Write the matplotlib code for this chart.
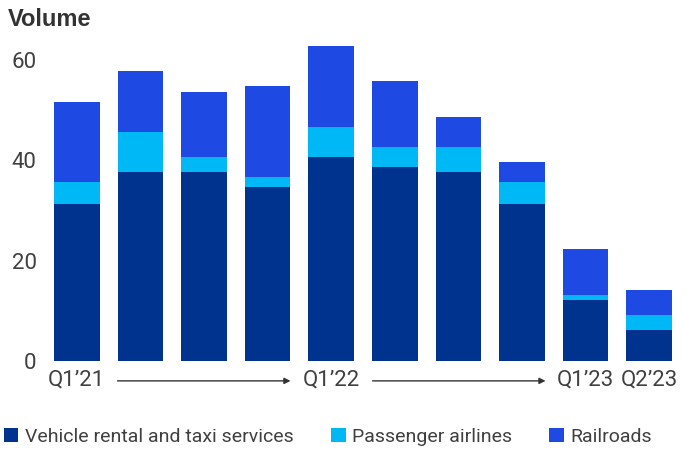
import matplotlib
matplotlib.use("Agg")
import matplotlib.pyplot as plt
from matplotlib.patches import Patch

FONT = "Roboto"

quarters = ["Q1'21", "Q2'21", "Q3'21", "Q4'21", "Q1'22", "Q2'22", "Q3'22", "Q4'22", "Q1'23", "Q2'23"]
vehicle = [31.4, 37.6, 37.6, 34.6, 40.6, 38.6, 37.6, 31.4, 12.2, 6.2]
airlines = [4.2, 8.0, 3.0, 2.0, 6.0, 4.0, 5.0, 4.2, 1.0, 3.0]
railroads = [16.0, 12.2, 13.0, 18.2, 16.2, 13.2, 6.0, 4.0, 9.2, 5.0]
tick_pos = [0, 4, 8, 9]
tick_labels = ["Q1\u201921", "Q1\u201922", "Q1\u201923", "Q2\u201923"]
series_names = ["Vehicle rental and taxi services", "Passenger airlines", "Railroads"]
colors = ["#00338D", "#00B8F5", "#1E49E2"]

fig = plt.figure(figsize=(6.86, 4.49), dpi=100)
ax = fig.add_axes([45/686, 88/449, 636/686, 326/449])

x = list(range(len(quarters)))
b1 = [v for v in vehicle]
b2 = [v + a for v, a in zip(vehicle, airlines)]
ax.bar(x, vehicle, width=0.72, color=colors[0])
ax.bar(x, airlines, width=0.72, bottom=b1, color=colors[1])
ax.bar(x, railroads, width=0.72, bottom=b2, color=colors[2])

ax.set_xlim(-0.5, 9.5)
ax.set_ylim(0, 65)
ax.set_yticks([0, 20, 40, 60])
for s in ax.spines.values():
    s.set_visible(False)
ax.tick_params(axis="both", length=0, labelsize=16, labelcolor="#404040")
ax.tick_params(axis="y", pad=6)
ax.tick_params(axis="x", pad=6)
ax.set_xticks(tick_pos)
ax.set_xticklabels(tick_labels)
for lbl in ax.get_xticklabels() + ax.get_yticklabels():
    lbl.set_fontfamily(FONT)
for lbl in ax.get_yticklabels():
    lbl.set_horizontalalignment("right")

tr = ax.get_xaxis_transform()
for x0, x1 in [(0.64, 3.36), (4.65, 7.37)]:
    ax.annotate("", xy=(x1, -0.061), xytext=(x0, -0.061), xycoords=tr, textcoords=tr,
                arrowprops=dict(arrowstyle="-|>", color="#333333", lw=1.0,
                                mutation_scale=9, shrinkA=0, shrinkB=0),
                annotation_clip=False)

fig.text(8/686, 1 - 20/449, "Volume", fontsize=17, fontweight="bold", color="#333333",
         va="center", ha="left", family=["Liberation Sans", "DejaVu Sans"])

handles = [Patch(facecolor=c, edgecolor="none") for c in colors]
fig.legend(handles, series_names, loc="center left", bbox_to_anchor=(0.0, 1 - 437/449),
           ncol=3, frameon=False, handlelength=0.75, handleheight=0.75, handletextpad=0.35,
           columnspacing=1.9, borderaxespad=0, borderpad=0.2,
           prop={"family": FONT, "size": 14}, labelcolor="#404040")

fig.savefig("out.png", dpi=100)
